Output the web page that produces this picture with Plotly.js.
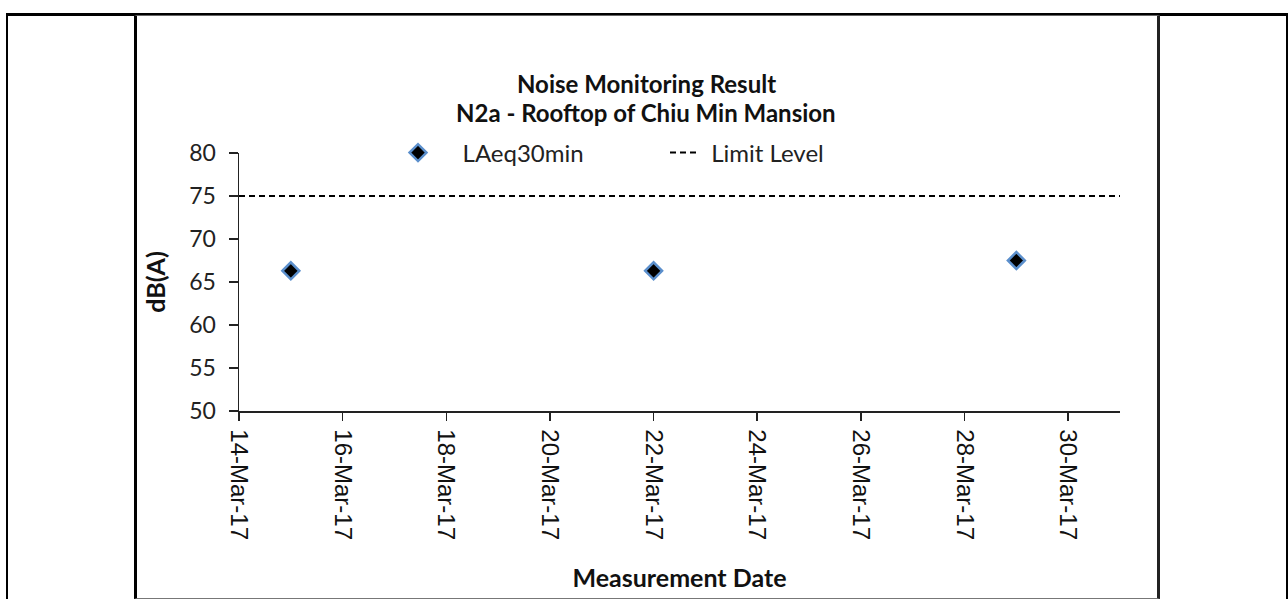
<!DOCTYPE html>
<html>
<head>
<meta charset="utf-8">
<script src="https://cdn.plot.ly/plotly-3.0.1.min.js"></script>
<style>
  html, body { margin: 0; padding: 0; background: #fff; width: 1288px; height: 599px; overflow: hidden; }
  #chart { position: absolute; left: 0; top: 0; width: 1288px; height: 599px; }
  .frame { position: absolute; pointer-events: none; box-sizing: border-box; }
</style>
</head>
<body>
<div id="chart"></div>
<div class="frame" style="left:6px; top:13px; width:1282px; height:600px; border-top:3px solid #000; border-left:2px solid #000; border-right:2px solid #000;"></div>
<div class="frame" style="left:134px; top:15px; width:1026px; height:584px; border-left:3px solid #000; border-right:3px solid #222; border-bottom:1px solid #777; border-top:1px solid #666;"></div>
<script>
// Data
const measurementDates = ['2017-03-15', '2017-03-22', '2017-03-29'];
const laeqValues = [66.3, 66.3, 67.5];
const limitDates = ['2017-03-14', '2017-03-31'];
const limitValues = [75, 75];
const xRange = ['2017-03-14', '2017-03-31'];
const yRange = [50, 80];
const titleLines = ['Noise Monitoring Result', 'N2a - Rooftop of Chiu Min Mansion'];
const seriesNames = ['LAeq30min', 'Limit Level'];

const bodyFont = 'Lato, "Open Sans", sans-serif';
const nb = n => '\u00a0'.repeat(n);

const traces = [
  {
    x: measurementDates, y: laeqValues, name: nb(4) + seriesNames[0],
    type: 'scatter', mode: 'markers',
    marker: { symbol: 'diamond', size: 13, color: '#000000', line: { color: '#5b8fcc', width: 2.5 } }
  },
  {
    x: limitDates, y: limitValues, name: nb(1) + seriesNames[1],
    type: 'scatter', mode: 'lines',
    line: { color: '#000000', width: 2, dash: '6px,4px' }
  }
];

// plot area: x 239..1120 px, y 153..411 px
const plotL = 239, plotW = 881, plotB = 411, plotH = 258;
const px2x = p => (p - plotL) / plotW;
const py2y = p => (plotB - p) / plotH;

const layout = {
  width: 1288, height: 599,
  paper_bgcolor: 'rgba(0,0,0,0)', plot_bgcolor: 'rgba(0,0,0,0)',
  margin: { l: 239, r: 168, t: 153, b: 188, pad: 0 },
  font: { family: bodyFont, color: '#222', size: 22 },
  annotations: [
    { text: '<b>' + titleLines[0] + '</b>', xref: 'paper', yref: 'paper', x: px2x(646), y: py2y(84),
      xanchor: 'center', yanchor: 'middle', showarrow: false, font: { family: bodyFont, size: 24, color: '#111' } },
    { text: '<b>' + titleLines[1] + '</b>', xref: 'paper', yref: 'paper', x: px2x(646), y: py2y(113),
      xanchor: 'center', yanchor: 'middle', showarrow: false, font: { family: bodyFont, size: 24, color: '#111' } }
  ],
  showlegend: true,
  legend: {
    orientation: 'h', x: px2x(398), xanchor: 'left', y: 1.0, yanchor: 'middle',
    font: { family: bodyFont, size: 24, color: '#222' },
    bgcolor: 'rgba(0,0,0,0)', traceorder: 'normal', itemwidth: 30,
    entrywidth: 222, entrywidthmode: 'pixels'
  },
  xaxis: {
    type: 'date', range: xRange, autorange: false,
    tick0: '2017-03-14', dtick: 2 * 86400000,
    tickformat: '%-d-%b-%y', tickangle: 90,
    tickfont: { family: '"Liberation Sans", Arial, sans-serif', size: 24, color: '#111' },
    ticks: 'outside', ticklen: 8, tickwidth: 1.5, tickcolor: '#222',
    ticklabelstandoff: 4,
    showline: true, linecolor: '#222', linewidth: 1.5,
    showgrid: false, zeroline: false,
    title: { text: '<b>Measurement Date</b>', font: { family: bodyFont, size: 25, color: '#111' }, standoff: 30 },
    automargin: false
  },
  yaxis: {
    range: yRange, autorange: false, dtick: 5, tick0: 50,
    tickfont: { family: bodyFont, size: 23, color: '#222' },
    ticks: 'outside', ticklen: 9, tickwidth: 1.5, tickcolor: '#222',
    ticklabelstandoff: 8,
    showline: true, linecolor: '#222', linewidth: 1.5,
    showgrid: false, zeroline: false,
    title: { text: '<b>dB(A)</b>', font: { family: bodyFont, size: 25, color: '#111' }, standoff: 16 },
    automargin: false
  }
};

Plotly.newPlot('chart', traces, layout, { displayModeBar: false, staticPlot: true });
</script>
</body>
</html>
